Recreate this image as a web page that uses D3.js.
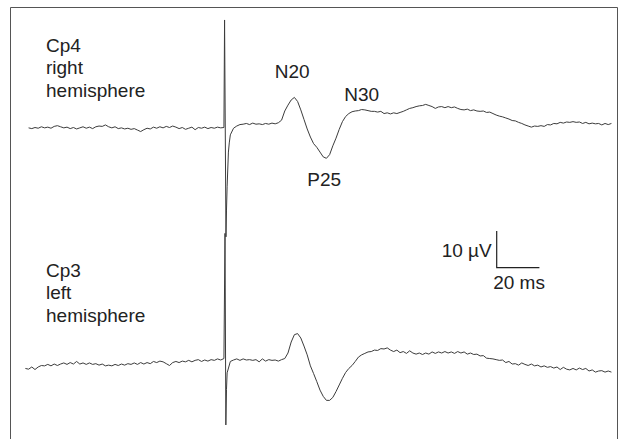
<!DOCTYPE html>
<html>
<head>
<meta charset="utf-8">
<script src="https://cdn.jsdelivr.net/npm/d3@7/dist/d3.min.js"></script>
<style>
  html, body { margin: 0; padding: 0; background: #fff; }
  svg { display: block; }
  text { font-family: "Liberation Sans", Arial, Helvetica, sans-serif; fill: #222; }
</style>
</head>
<body>
<svg id="chart" width="622" height="439"></svg>
<script>
// Somatosensory evoked potentials, averaged traces (µV, negative up)
const dt = 1.5;               // sampling interval, ms
const cp4Start = -92;         // ms, first sample of the Cp4 trace
const cp3Start = -93.5;       // ms, first sample of the Cp3 trace

const cp4Values = [
  0.1, 0.3, 0.0, 0.2, -0.2, 0.1, -0.1, 0.2, -0.3, -0.5,
  -0.2, 0.1, -0.1, 0.3, 0.0, 0.4, 0.1, -0.2, 0.2, -0.1,
  0.3, -0.2, -0.4, -0.3, -0.7, -0.2, 0.1, -0.2, 0.3, 0.1,
  0.4, 0.2, 0.5, 0.3, 0.7, 1.1, 0.6, 0.2, 0.4, -0.1,
  0.2, -0.2, 0.1, -0.3, 0.0, -0.4, -0.1, 0.3, 0.0, 0.5,
  0.2, -0.1, 0.6, 0.0, 0.2, -0.1, 0.3, 0.0, 0.2, -0.1,
  0.1, 0.0,
  16.0, 2.0, 0.2, -0.4, -0.8,
  -0.9, -1.1, -0.8, -1.2, -0.9, -1.0, -0.8, -1.1, -0.9, -1.2, -1.0, -1.3,
  -2.0, -4.5, -6.1, -7.5, -8.2, -7.1, -4.8, -2.2, 0.4, 2.6,
  4.4, 5.4, 6.7, 8.0, 8.4, 7.4, 5.0, 2.9, 0.5, -1.6,
  -3.0, -3.8, -4.3, -4.5, -4.6, -4.9, -4.8, -4.6, -4.4, -4.4,
  -4.2, -4.4, -3.8, -4.0, -3.7, -4.0, -3.8, -4.1, -4.4, -4.8,
  -5.2, -5.4, -5.7, -5.9, -6.0, -6.3, -6.0, -5.7, -5.2, -5.6,
  -5.7, -5.4, -5.7, -5.4, -5.6, -5.2, -4.9, -4.8, -5.0, -4.6,
  -4.8, -4.5, -4.4, -4.5, -4.1, -4.2, -3.8, -3.4, -3.1, -2.9,
  -2.6, -2.3, -1.9, -1.8, -1.4, -1.1, -0.7, -0.4, -0.1, -0.4,
  -0.3, -0.5, -0.3, -0.8, -0.7, -1.1, -1.0, -1.4, -1.2, -1.5,
  -1.4, -1.6, -1.4, -1.5, -1.1, -1.4, -1.0, -1.2, -1.0, -1.1,
  -0.7, -1.1, -0.8, -1.1
];
// stimulus artifact on Cp4: [time ms, µV]
const cp4Artifact = [[-0.2, -29.3], [0.45, 29.8], [0.7, 22.5], [1.6, 6.7], [2.0, 4.2]];

const cp3Values = [
  2.3, 2.5, 1.9, 2.6, 1.9, 1.5, 1.6, 1.2, 1.6, 1.1,
  1.5, 1.1, 0.8, 1.2, 0.7, 1.1, 0.4, 1.1, 0.8, 1.2,
  0.8, 1.2, 1.0, 1.4, 1.1, 1.6, 1.4, 1.6, 1.2, 1.5,
  1.1, 1.4, 1.0, 1.2, 0.8, 1.2, 0.7, 1.1, 0.7, 1.0,
  0.4, 0.7, 0.3, 0.5, 1.0, 1.5, 0.7, 0.4, 0.7, 0.3,
  0.5, 0.1, 0.5, 0.1, -0.1, 0.4, 0.0, 0.3, -0.1, 0.1,
  -0.3, 0.0, -0.4,
  3.5, 0.4, 0.0, -0.3, 0.1, -0.3, 0.0, -0.1, 0.1, -0.1,
  0.5, -0.3, 0.3, -0.1, 0.1, 0.0, 0.3, -0.1, -0.4,
  -1.9, -4.9, -6.9, -7.2, -6.0, -3.8, -1.4, 1.6, 3.7, 5.9,
  8.2, 9.9, 11.0, 11.0, 10.2, 8.6, 6.8, 5.0, 3.4, 2.3,
  1.5, 0.4, -0.8, -1.4, -1.8, -2.2, -2.3, -2.7, -2.6, -3.1,
  -3.0, -3.3, -2.7, -2.3, -2.7, -2.0, -2.3, -1.8, -2.5, -1.9,
  -1.6, -1.9, -1.5, -1.9, -1.6, -2.2, -1.8, -2.2, -1.9, -2.3,
  -1.9, -2.2, -1.8, -2.3, -1.9, -2.2, -1.6, -1.9, -1.5, -1.6,
  -1.1, -1.2, -0.5, -0.4, -0.3, -0.1, 0.1, 0.0, 0.7, 0.4,
  1.1, 1.0, 1.4, 0.8, 1.2, 1.5, 1.1, 1.6, 1.4, 1.9,
  1.6, 2.0, 1.8, 2.2, 1.9, 2.6, 2.0, 2.5, 2.7, 2.3,
  2.7, 2.2, 2.6, 2.3, 3.0, 2.7, 3.3, 3.0, 2.9, 3.3,
  3.0, 3.3
];
// stimulus artifact on Cp3: [time ms, µV]
const cp3Artifact = [[0.0, -34.5], [0.4, 17.7], [0.7, 8.0]];

const traceLabels = [
  ["Cp4", "right", "hemisphere"],
  ["Cp3", "left", "hemisphere"]
];
const peakLabels = [
  { name: "N20", t: 31.5, v: -8.2 },
  { name: "P25", t: 46.5, v: 8.4 },
  { name: "N30", t: 64.0, v: -4.9 }
];
const scaleBarMs = 20;
const scaleBarUV = 10;

// ---- layout ----
const W = 622, H = 439;
const pxPerMs = 2.135, pxPerUV = 3.67;
const stimX = 225;
const x = d3.scaleLinear().domain([0, 1]).range([stimX, stimX + pxPerMs]);
const yCp4 = d3.scaleLinear().domain([0, 1]).range([127.5, 127.5 + pxPerUV]);
const yCp3 = d3.scaleLinear().domain([0, 1]).range([360, 360 + pxPerUV]);

function series(start, values, artifact) {
  const pts = values.map((v, i) => [start + i * dt, v]);
  return pts.concat(artifact).sort((a, b) => a[0] - b[0]);
}

const svg = d3.select("#chart");

// frame
svg.append("path")
  .attr("d", `M10.5,${H + 5} V7.5 H617.5 V${H + 5}`)
  .attr("fill", "none").attr("stroke", "#555").attr("stroke-width", 1);

const traceColor = "#3c3c3c";
const traces = [
  { data: series(cp4Start, cp4Values, cp4Artifact), y: yCp4 },
  { data: series(cp3Start, cp3Values, cp3Artifact), y: yCp3 }
];
traces.forEach(tr => {
  const line = d3.line().x(d => x(d[0])).y(d => tr.y(d[1]));
  svg.append("path")
    .datum(tr.data)
    .attr("d", line)
    .attr("fill", "none")
    .attr("stroke", traceColor)
    .attr("stroke-width", 1)
    .attr("stroke-linejoin", "round");
});

// channel labels
const labelTop = [51.5, 276.5];
traceLabels.forEach((lines, k) => {
  const t = svg.append("text").attr("x", 46).attr("y", labelTop[k]).attr("font-size", 19);
  lines.forEach((s, j) => {
    t.append("tspan").attr("x", 46).attr("dy", j === 0 ? 0 : 22.5).text(s);
  });
});

// peak labels
svg.append("text").attr("font-size", 19).attr("text-anchor", "middle")
  .attr("x", x(peakLabels[0].t)).attr("y", yCp4(peakLabels[0].v) - 19)
  .text(peakLabels[0].name);
svg.append("text").attr("font-size", 19).attr("text-anchor", "middle")
  .attr("x", x(peakLabels[1].t)).attr("y", yCp4(peakLabels[1].v) + 27.5)
  .text(peakLabels[1].name);
svg.append("text").attr("font-size", 19).attr("text-anchor", "middle")
  .attr("x", x(peakLabels[2].t)).attr("y", yCp4(peakLabels[2].v) - 9)
  .text(peakLabels[2].name);

// calibration bar
const barX = 496.7, barY = 267.7;
const barLen = x(scaleBarMs) - x(0);
const barH = yCp4(scaleBarUV) - yCp4(0);
svg.append("path")
  .attr("d", `M${barX},${barY - barH} V${barY} H${barX + barLen}`)
  .attr("fill", "none").attr("stroke", "#222").attr("stroke-width", 1.2);
svg.append("text").attr("font-size", 19).attr("text-anchor", "end")
  .attr("x", barX - 5).attr("y", 257.3).text(scaleBarUV + " µV");
svg.append("text").attr("font-size", 19)
  .attr("x", barX - 3.5).attr("y", 289).text(scaleBarMs + " ms");
</script>
</body>
</html>
